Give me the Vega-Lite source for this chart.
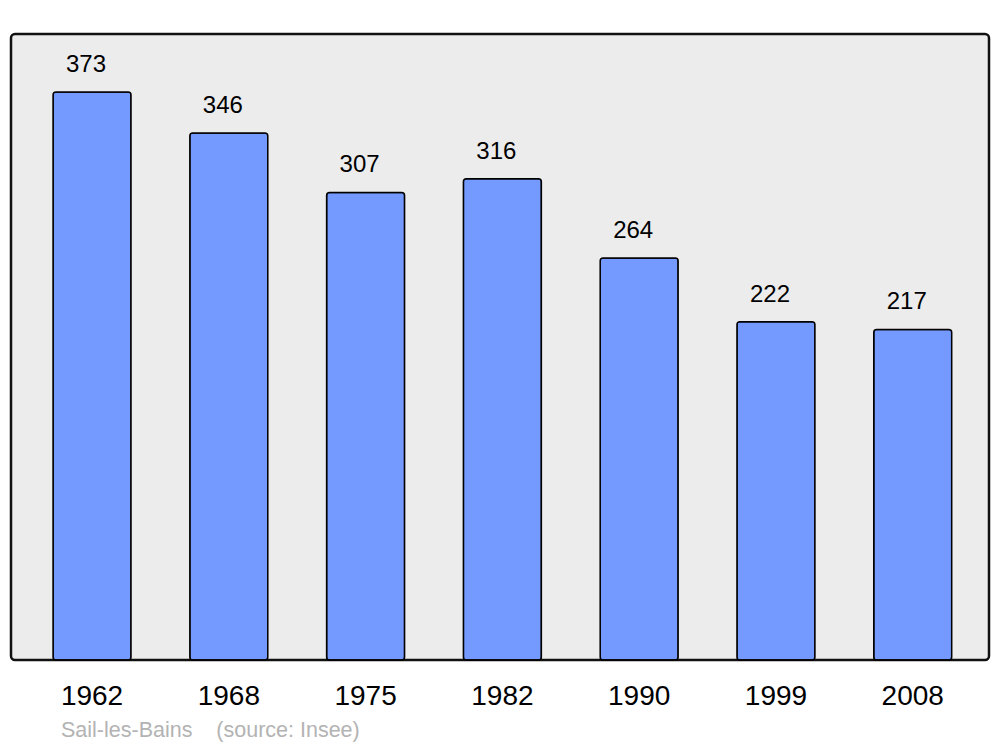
{
  "$schema": "https://vega.github.io/schema/vega-lite/v6.json",
  "width": 978,
  "height": 626,
  "autosize": {"type": "none"},
  "padding": {"left": 11, "top": 34, "right": 11, "bottom": 87},
  "background": "white",
  "config": {
    "font": "Liberation Sans",
    "view": {"fill": "#ececec", "stroke": "#111111", "strokeWidth": 2.5, "cornerRadius": 4}
  },
  "title": {
    "text": "Sail-les-Bains\u00a0\u00a0\u00a0\u00a0(source: Insee)",
    "orient": "bottom",
    "anchor": "start",
    "frame": "group",
    "dx": 50,
    "offset": 10,
    "fontSize": 21.5,
    "fontWeight": "normal",
    "color": "#b3b3b3",
    "font": "Liberation Sans"
  },
  "data": {
    "values": [
      {"year": "1962", "pop": 373},
      {"year": "1968", "pop": 346},
      {"year": "1975", "pop": 307},
      {"year": "1982", "pop": 316},
      {"year": "1990", "pop": 264},
      {"year": "1999", "pop": 222},
      {"year": "2008", "pop": 217}
    ]
  },
  "encoding": {
    "x": {
      "field": "year",
      "type": "nominal",
      "sort": null,
      "scale": {"paddingInner": 0.43, "paddingOuter": 0.29, "align": 0.53},
      "axis": {
        "title": null,
        "domain": false,
        "ticks": false,
        "labelAngle": 0,
        "labelFontSize": 28,
        "labelColor": "#000000",
        "labelPadding": 22,
        "labelFont": "Liberation Sans"
      }
    },
    "y": {
      "field": "pop",
      "type": "quantitative",
      "scale": {"domain": [0, 411], "nice": false, "zero": true},
      "axis": null
    }
  },
  "layer": [
    {
      "mark": {"type": "bar", "fill": "#7499ff", "stroke": "#000000", "strokeWidth": 1.5, "cornerRadius": 3}
    },
    {
      "mark": {"type": "text", "fontSize": 24, "color": "#000000", "baseline": "alphabetic", "dy": -20, "dx": -6, "font": "Liberation Sans"},
      "encoding": {"text": {"field": "pop", "type": "quantitative"}}
    }
  ]
}
